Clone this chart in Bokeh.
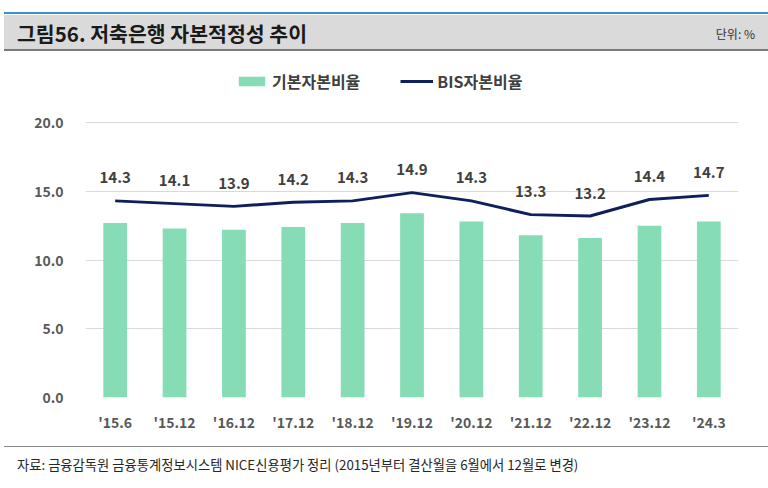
from bokeh.plotting import figure
from bokeh.layouts import column
from bokeh.models import (ColumnDataSource, FactorRange, Range1d, FixedTicker,
                          PrintfTickFormatter, LabelSet, Legend, LegendItem, Div)
from bokeh.core.properties import value
from bokeh.embed import file_html
from bokeh.resources import INLINE

categories = ["'15.6", "'15.12", "'16.12", "'17.12", "'18.12", "'19.12",
              "'20.12", "'21.12", "'22.12", "'23.12", "'24.3"]
tier1_ratio = [12.7, 12.3, 12.2, 12.4, 12.7, 13.4, 12.8, 11.8, 11.6, 12.5, 12.8]
bis_ratio = [14.3, 14.1, 13.9, 14.2, 14.3, 14.9, 14.3, 13.3, 13.2, 14.4, 14.7]
y_ticks = [0, 5, 10, 15, 20]

title_text = "그림56. 저축은행 자본적정성 추이"
unit_text = "단위: %"
source_text = "자료: 금융감독원 금융통계정보시스템 NICE신용평가 정리 (2015년부터 결산월을 6월에서 12월로 변경)"
series_names = ["기본자본비율", "BIS자본비율"]

FONT = "Noto Sans CJK KR"
W = 768

# ---------- header ----------
header_html = f"""
<div style="position:relative;width:{W}px;height:52px;font-family:'{FONT}';">
  <div style="position:absolute;left:4px;right:0;top:12px;height:2px;background:#3d8fcf;"></div>
  <div style="position:absolute;left:4px;right:0;top:15px;height:36px;background:#dadada;border-bottom:2px solid #7a7a7a;"></div>
  <div style="position:absolute;left:17px;top:15px;height:36px;line-height:36px;font-size:20.5px;font-weight:bold;color:#1a1a1a;white-space:nowrap;">{title_text}</div>
  <div style="position:absolute;right:13px;top:15px;height:36px;line-height:38px;font-size:12px;color:#333333;white-space:nowrap;">{unit_text}</div>
</div>
"""
hdr = Div(text=header_html, width=W, height=52, margin=0)

# ---------- main chart ----------
src = ColumnDataSource(dict(cat=categories, t1=tier1_ratio, bis=bis_ratio,
                            lab=[f"{v:.1f}" for v in bis_ratio]))

# frame spans page y 67..397; the 0..20 scale occupies 122..397
p = figure(width=W, height=388, x_range=FactorRange(*categories, range_padding=0),
           y_range=Range1d(0, 24.0), output_backend="svg", toolbar_location=None,
           min_border_left=85, min_border_right=30, min_border_top=15,
           min_border_bottom=43, margin=0)
p.outline_line_color = None
p.xgrid.visible = False
p.ygrid.grid_line_color = "#d9d9d9"
p.ygrid.grid_line_width = 1

bars = p.vbar(x="cat", top="t1", width=0.4, source=src,
              fill_color="#86ddb5", line_color=None)
ln = p.line(x="cat", y="bis", source=src, line_color="#0e1f5b", line_width=3)

p.add_layout(LabelSet(x="cat", y="bis", text="lab", source=src, y_offset=23,
                      text_align="center", text_baseline="middle",
                      text_font=value(FONT), text_font_size=value("15px"),
                      text_font_style="bold", text_color="#404040"))

p.yaxis.ticker = FixedTicker(ticks=y_ticks)
p.yaxis.formatter = PrintfTickFormatter(format="%.1f")
for ax in (p.xaxis, p.yaxis):
    ax.axis_line_color = None
    ax.major_tick_line_color = None
    ax.minor_tick_line_color = None
    ax.major_tick_in = 0
    ax.major_tick_out = 0
    ax.major_label_text_font = FONT
    ax.major_label_text_font_size = "14px"
    ax.major_label_text_font_style = "bold"
    ax.major_label_text_color = "#595959"
p.yaxis.major_label_standoff = 22
p.xaxis.major_label_standoff = 14

legend = Legend(items=[LegendItem(label=series_names[0], renderers=[bars]),
                       LegendItem(label=series_names[1], renderers=[ln])],
                location=(150, 304), orientation="horizontal",
                padding=0, margin=0, spacing=40, label_standoff=4,
                glyph_width=33, glyph_height=12, label_height=22,
                label_text_font=FONT, label_text_font_size="16px",
                label_text_font_style="bold", label_text_color="#404040",
                border_line_color=None, background_fill_alpha=0)
p.add_layout(legend, "center")

# ---------- footer ----------
footer_html = f"""
<div style="position:relative;width:{W}px;height:44px;font-family:'{FONT}';">
  <div style="position:absolute;left:4px;right:0;top:6px;height:0;border-top:1.5px solid #8a8a8a;"></div>
  <div style="position:absolute;left:17px;top:15px;line-height:20px;font-size:13.3px;color:#262626;white-space:nowrap;">{source_text}</div>
</div>
"""
ftr = Div(text=footer_html, width=W, height=44, margin=0)

layout = column(hdr, p, ftr, spacing=0)
open("out.html", "w").write(file_html(layout, INLINE))
